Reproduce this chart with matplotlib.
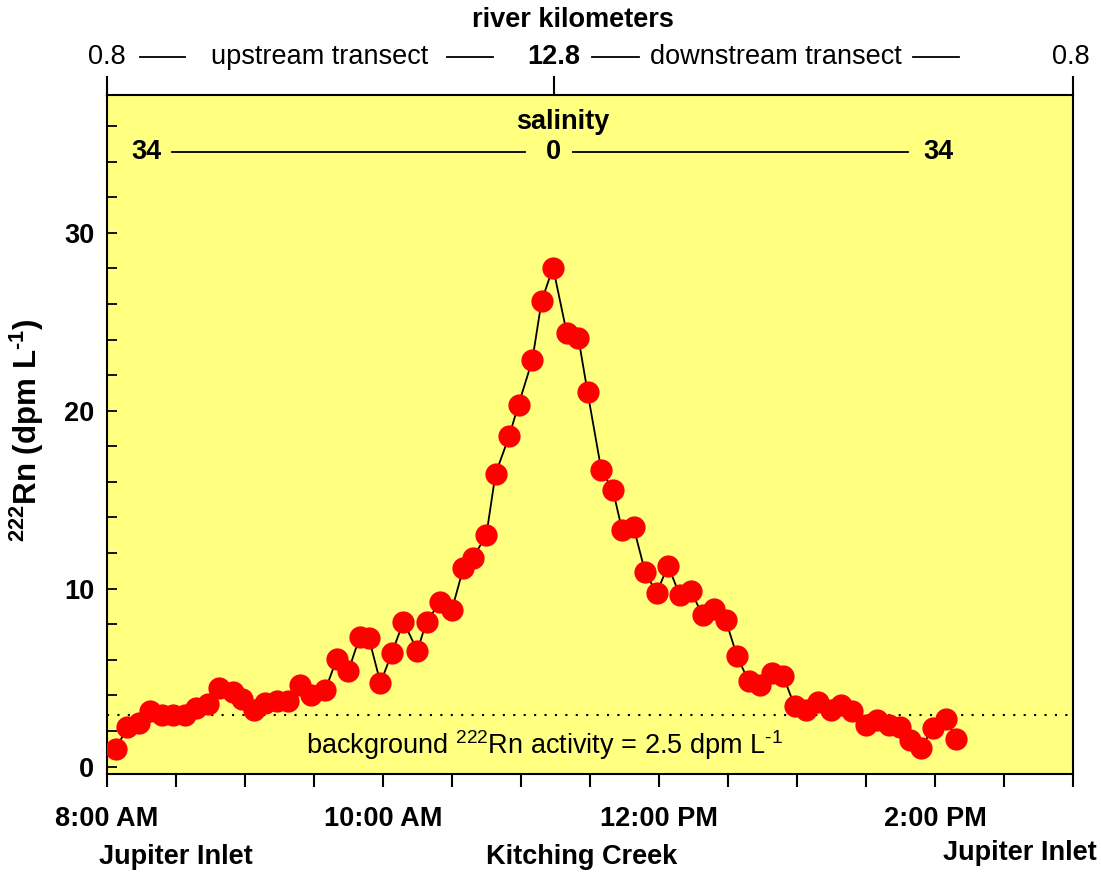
import matplotlib

matplotlib.use("Agg")
import matplotlib.pyplot as plt
import numpy as np
from matplotlib.lines import Line2D

plt.rcParams["font.family"] = ["Liberation Sans", "DejaVu Sans"]
plt.rcParams["mathtext.default"] = "regular"

# minutes after 8:00 AM for each sample
sample_minutes = [
    4, 9, 14, 19, 24, 29, 34, 39, 44, 49, 55, 59, 64, 69, 74, 79, 84, 89, 95,
    100, 105, 110, 114, 119, 124, 129, 135, 139, 145, 150, 155, 159, 165, 169,
    175, 179, 185, 189, 194, 200, 205, 209, 215, 220, 224, 229, 234, 239, 244,
    249, 254, 259, 264, 269, 274, 279, 284, 289, 294, 299, 304, 309, 315, 319,
    324, 330, 335, 340, 345, 349, 354, 359, 365, 369,
]
radon_dpm = [
    1.0, 2.2, 2.45, 3.1, 2.9, 2.9, 2.9, 3.3, 3.5, 4.4, 4.2, 3.8, 3.2, 3.6, 3.7,
    3.7, 4.6, 4.0, 4.3, 6.05, 5.35, 7.3, 7.2, 4.7, 6.4, 8.15, 6.5, 8.15, 9.25,
    8.8, 11.15, 11.7, 13.0, 16.45, 18.6, 20.35, 22.85, 26.15, 28.05, 24.35,
    24.1, 21.05, 16.65, 15.55, 13.3, 13.45, 10.95, 9.75, 11.3, 9.65, 9.85, 8.5,
    8.85, 8.25, 6.2, 4.8, 4.6, 5.25, 5.1, 3.4, 3.2, 3.65, 3.2, 3.45, 3.1, 2.35,
    2.6, 2.35, 2.25, 1.5, 1.05, 2.15, 2.7, 1.55,
]
background_level = 2.9

hour_ticks = [8, 8.5, 9, 9.5, 10, 10.5, 11, 11.5, 12, 12.5, 13, 13.5, 14, 14.5, 15]
hour_labels = ["8:00 AM", "", "", "", "10:00 AM", "", "", "", "12:00 PM", "", "", "",
               "2:00 PM", "", ""]
radon_ticks = [0, 10, 20, 30]

hours = 8 + np.array(sample_minutes) / 60.0
FS = 19.5
SUP_MINUS = "\u2010"

fig = plt.figure(figsize=(11.01, 8.76), dpi=100)
ax = fig.add_axes([0.0969, 0.1164, 0.8777, 0.7752])
ax.set_facecolor("#ffff80")

ax.axhline(background_level, color="black", linestyle=(0, (1, 4)), linewidth=1.5, zorder=1)
ax.plot(hours, radon_dpm, color="black", linewidth=1.3, zorder=2)
ax.plot(hours, radon_dpm, linestyle="none", marker="o", markersize=16,
        markerfacecolor="#ff0000", markeredgecolor="none", zorder=3)

ax.set_xlim(8, 15)
ax.set_ylim(-0.42, 37.75)

ax.set_xticks(hour_ticks)
ax.set_xticklabels(hour_labels, fontsize=FS, fontweight="bold")
ax.tick_params(axis="x", direction="out", length=9, width=1.5, pad=14)
ax.set_yticks(radon_ticks)
ax.set_yticklabels([str(v) for v in radon_ticks], fontsize=FS, fontweight="bold")
ax.set_yticks(np.arange(0, 37, 2), minor=True)
ax.tick_params(axis="y", which="both", direction="in", length=7, width=1.3, pad=9)
for spine in ax.spines.values():
    spine.set_linewidth(1.5)

ax.set_ylabel("$^{222}$Rn (dpm L$^{" + SUP_MINUS + "1}$)", fontsize=22.5, fontweight="bold")
ax.yaxis.set_label_coords(-0.063, 0.507)

ax.text(0.453, 0.043, "background $^{222}$Rn activity = 2.5 dpm L$^{" + SUP_MINUS + "1}$",
        transform=ax.transAxes, ha="center", va="center", fontsize=FS)


def hline(x0, x1, y, lw=1.3):
    ax.add_line(Line2D([x0, x1], [y, y], transform=ax.transAxes, color="black",
                       linewidth=lw, clip_on=False))


# river kilometers header
ax.text(0.4825, 1.110, "river kilometers", transform=ax.transAxes, ha="center",
        va="center", fontsize=FS, fontweight="bold")
top_y = 1.056
ax.text(0.0, top_y, "0.8", transform=ax.transAxes, ha="center", va="center", fontsize=FS)
hline(0.0345, 0.081, top_y)
ax.text(0.2208, top_y, "upstream transect", transform=ax.transAxes, ha="center",
        va="center", fontsize=FS)
hline(0.352, 0.400, top_y)
ax.text(0.4629, top_y, "12.8", transform=ax.transAxes, ha="center", va="center",
        fontsize=FS, fontweight="bold")
hline(0.502, 0.551, top_y)
ax.text(0.693, top_y, "downstream transect", transform=ax.transAxes, ha="center",
        va="center", fontsize=FS)
hline(0.834, 0.882, top_y)
ax.text(0.998, top_y, "0.8", transform=ax.transAxes, ha="center", va="center", fontsize=FS)
for xt in [0.0, 0.4629, 1.0]:
    ax.add_line(Line2D([xt, xt], [1.0, 1.027], transform=ax.transAxes, color="black",
                       linewidth=1.5, clip_on=False))

# salinity header
ax.text(0.472, 0.960, "salinity", transform=ax.transAxes, ha="center", va="center",
        fontsize=FS, fontweight="bold")
sal_y = 0.916
ax.text(0.041, sal_y, "34", transform=ax.transAxes, ha="center", va="center",
        fontsize=FS, fontweight="bold")
hline(0.068, 0.433, sal_y)
ax.text(0.462, sal_y, "0", transform=ax.transAxes, ha="center", va="center",
        fontsize=FS, fontweight="bold")
hline(0.483, 0.829, sal_y)
ax.text(0.861, sal_y, "34", transform=ax.transAxes, ha="center", va="center",
        fontsize=FS, fontweight="bold")

# locations under the time axis
ax.text(0.072, -0.122, "Jupiter Inlet", transform=ax.transAxes, ha="center",
        va="center", fontsize=FS, fontweight="bold")
ax.text(0.491, -0.122, "Kitching Creek", transform=ax.transAxes, ha="center",
        va="center", fontsize=FS, fontweight="bold")
ax.text(0.945, -0.116, "Jupiter Inlet", transform=ax.transAxes, ha="center",
        va="center", fontsize=FS, fontweight="bold")

fig.savefig("out.png", dpi=100)
